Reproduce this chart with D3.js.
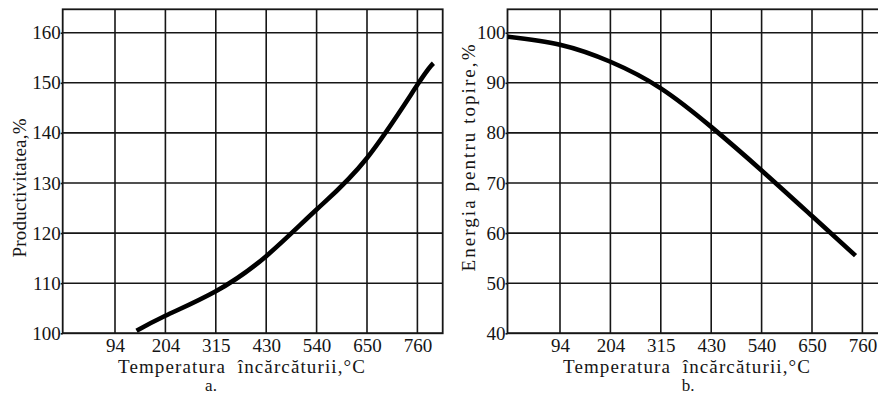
<!DOCTYPE html>
<html>
<head>
<meta charset="utf-8">
<script src="https://cdn.jsdelivr.net/npm/d3@7"></script>
<style>
  html, body { margin: 0; padding: 0; background: #fff; }
  svg { display: block; }
  text { font-family: "Liberation Serif", "Times New Roman", serif; fill: #151515; }
</style>
</head>
<body>
<svg id="chart" width="878" height="394"></svg>
<script>
// Temperature ticks (°C) shared by both panels
const tempTicks = [94, 204, 315, 430, 540, 650, 760];

// Panel a: productivity vs charge temperature
const prodTicks = [100, 110, 120, 130, 140, 150, 160];
const prodTemp  = [141, 204, 315, 430, 540, 650, 760, 795];
const prodValue = [100.5, 103.5, 108.4, 115.4, 124.7, 135.0, 149.6, 153.9];

// Panel b: melting energy vs charge temperature
const energyTicks = [40, 50, 60, 70, 80, 90, 100];
const energyTemp  = [-20, 94, 204, 315, 430, 540, 650, 745];
const energyValue = [99.2, 97.6, 94.2, 88.9, 81.2, 72.5, 63.4, 55.5];

const xTitle = "Temperatura  încărcăturii,°C";

const svg = d3.select("#chart");
const INK = "#161616";

function drawPanel(cfg) {
  const g = svg.append("g");
  const step = cfg.step;
  const tickPx = tempTicks.map((_, i) => cfg.firstTick + i * step);
  const lo = tempTicks[0] - (cfg.firstTick - cfg.left) / step * 110;
  const hi = tempTicks[tempTicks.length - 1] + (cfg.right - tickPx[tickPx.length - 1]) / step * 110;

  // piecewise scale: ticks are evenly spaced on the page
  const x = d3.scaleLinear()
    .domain([lo, ...tempTicks, hi])
    .range([cfg.left, ...tickPx, cfg.right]);
  const y = d3.scaleLinear()
    .domain([cfg.yTicks[0], cfg.yTicks[cfg.yTicks.length - 1]])
    .range([cfg.bottom, cfg.yTopTick]);

  // grid
  g.append("g").selectAll("line").data(tempTicks).join("line")
    .attr("x1", d => x(d)).attr("x2", d => x(d))
    .attr("y1", cfg.top).attr("y2", cfg.bottom)
    .attr("stroke", INK).attr("stroke-width", 1.6);
  g.append("g").selectAll("line").data(cfg.yTicks).join("line")
    .attr("x1", cfg.left).attr("x2", cfg.right)
    .attr("y1", d => y(d)).attr("y2", d => y(d))
    .attr("stroke", INK).attr("stroke-width", 1.6);

  // frame
  g.append("rect")
    .attr("x", cfg.left).attr("y", cfg.top)
    .attr("width", cfg.right - cfg.left).attr("height", cfg.bottom - cfg.top)
    .attr("fill", "none").attr("stroke", INK).attr("stroke-width", 1.8);

  // axes
  const yAxis = g.append("g")
    .attr("transform", `translate(${cfg.left},0)`)
    .call(d3.axisLeft(y).tickValues(cfg.yTicks).tickSize(2).tickPadding(0));
  yAxis.select(".domain").remove();
  yAxis.selectAll("line").attr("stroke", INK).attr("stroke-width", 1.6);
  yAxis.selectAll("text").attr("font-size", 19).attr("font-family", "Liberation Serif").attr("fill", "#151515");

  const xAxis = g.append("g")
    .attr("transform", `translate(0,${cfg.bottom})`)
    .call(d3.axisBottom(x).tickValues(tempTicks).tickSize(0).tickPadding(5));
  xAxis.select(".domain").remove();
  xAxis.selectAll("text").attr("font-size", 19).attr("font-family", "Liberation Serif").attr("fill", "#151515");

  // titles
  g.append("text")
    .attr("x", cfg.xTitleX).attr("y", 373)
    .attr("text-anchor", "middle").attr("font-size", 19)
    .attr("textLength", 247).attr("lengthAdjust", "spacing")
    .style("white-space", "pre")
    .text(xTitle);
  g.append("text")
    .attr("transform", `translate(${cfg.yTitleX},${cfg.yTitleY}) rotate(-90)`)
    .attr("text-anchor", "middle").attr("font-size", 19)
    .attr("textLength", cfg.yTitleLen).attr("lengthAdjust", "spacing")
    .text(cfg.yTitle);
  g.append("text")
    .attr("x", cfg.captionX).attr("y", cfg.captionY)
    .attr("text-anchor", "middle").attr("font-size", 17)
    .text(cfg.caption);

  // curve
  const line = d3.line()
    .x(d => x(d[0])).y(d => y(d[1]))
    .curve(d3.curveNatural);
  g.append("path")
    .datum(d3.zip(cfg.temps, cfg.values))
    .attr("d", line)
    .attr("fill", "none").attr("stroke", "#000")
    .attr("stroke-width", 4.6).attr("stroke-linecap", "butt");
}

drawPanel({
  left: 62.7, right: 442.7, top: 9.3, bottom: 333.3, yTopTick: 32.7,
  firstTick: 115, step: 50.4,
  yTicks: prodTicks, temps: prodTemp, values: prodValue,
  yTitle: "Productivitatea,%", yTitleX: 26, yTitleY: 188, yTitleLen: 139,
  xTitleX: 241.5, caption: "a.", captionX: 211, captionY: 391
});

drawPanel({
  left: 507.5, right: 905, top: 9.3, bottom: 333.3, yTopTick: 32.7,
  firstTick: 560, step: 50.4,
  yTicks: energyTicks, temps: energyTemp, values: energyValue,
  yTitle: "Energia pentru topire,%", yTitleX: 475, yTitleY: 158, yTitleLen: 227,
  xTitleX: 686.5, caption: "b.", captionX: 688, captionY: 391
});
</script>
</body>
</html>
